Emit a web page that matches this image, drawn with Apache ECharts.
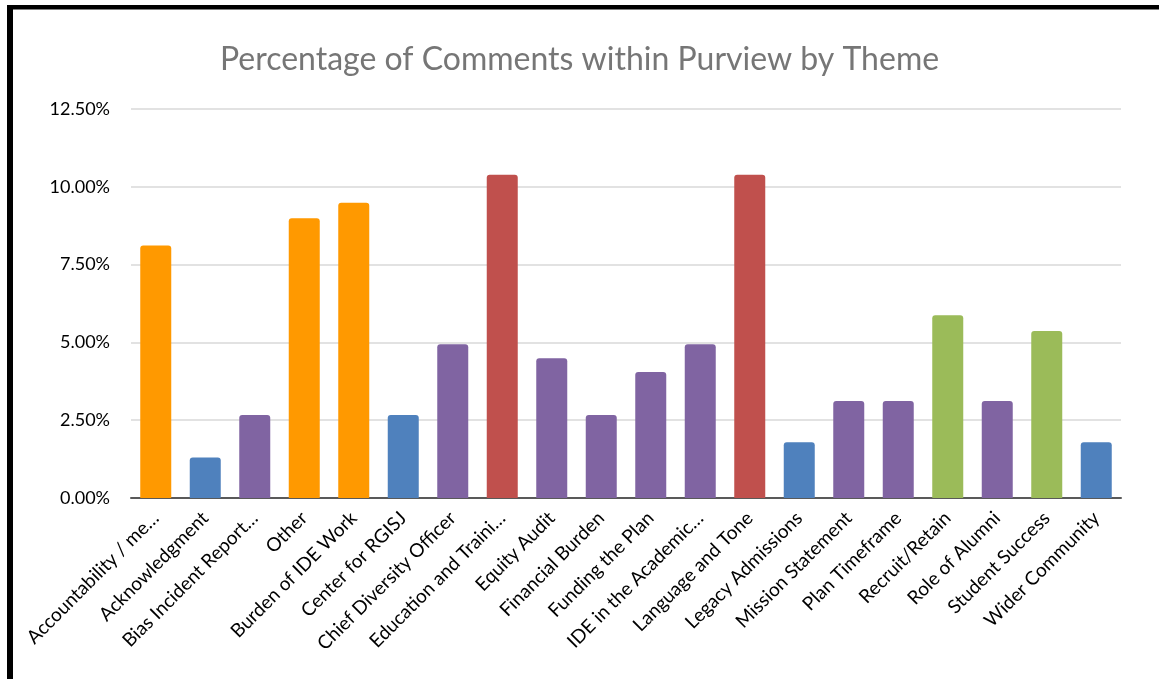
<!DOCTYPE html>
<html>
<head>
<meta charset="utf-8">
<title>Percentage of Comments within Purview by Theme</title>
<script type="text/javascript" src="https://cdn.jsdelivr.net/npm/echarts@6/dist/echarts.min.js"></script>
<style>
  html, body { margin: 0; padding: 0; background: #fff; }
  #chart { width: 1159px; height: 679px; }
</style>
</head>
<body>
<div id="chart"></div>
<script type="text/javascript">
// themes (labels truncated as in the original)
var themes = [
  'Accountability / me…', 'Acknowledgment', 'Bias Incident Report…', 'Other',
  'Burden of IDE Work', 'Center for RGISJ', 'Chief Diversity Officer',
  'Education and Traini…', 'Equity Audit', 'Financial Burden', 'Funding the Plan',
  'IDE in the Academic…', 'Language and Tone', 'Legacy Admissions',
  'Mission Statement', 'Plan Timeframe', 'Recruit/Retain', 'Role of Alumni',
  'Student Success', 'Wider Community'
];
// percentage of comments
var percents = [
  8.11, 1.30, 2.67, 8.99, 9.49, 2.67, 4.94, 10.39, 4.49, 2.67,
  4.05, 4.94, 10.39, 1.79, 3.12, 3.12, 5.87, 3.12, 5.37, 1.79
];
// y axis ticks
var yTicks = [0, 2.5, 5, 7.5, 10, 12.5];

// colour of each bar
var barColors = [
  '#ff9900', '#4f81bd', '#8064a2', '#ff9900', '#ff9900', '#4f81bd', '#8064a2',
  '#c0504d', '#8064a2', '#8064a2', '#8064a2', '#8064a2', '#c0504d', '#4f81bd',
  '#8064a2', '#8064a2', '#9bbb59', '#8064a2', '#9bbb59', '#4f81bd'
];

var font = 'Lato, "Open Sans", sans-serif';
var myChart = echarts.init(document.getElementById('chart'));

myChart.setOption({
  animation: false,
  title: {
    text: 'Percentage of Comments within Purview by Theme',
    left: 'center',
    top: 39,
    textStyle: { color: '#767676', fontSize: 32, fontWeight: 'normal', fontFamily: font }
  },
  grid: { left: 131, right: 38, top: 109, bottom: 181 },
  xAxis: {
    type: 'category',
    data: themes,
    axisTick: { show: false },
    axisLine: { lineStyle: { color: '#595959', width: 2 } },
    axisLabel: {
      interval: 0,
      rotate: 45,
      margin: 17,
      color: '#000',
      fontSize: 19,
      fontFamily: font
    }
  },
  yAxis: {
    type: 'value',
    min: yTicks[0],
    max: yTicks[yTicks.length - 1],
    interval: yTicks[1] - yTicks[0],
    axisLine: { show: false },
    axisTick: { show: false },
    splitLine: { lineStyle: { color: '#d9d9d9', width: 1.5 } },
    axisLabel: {
      margin: 21,
      color: '#000',
      fontSize: 18,
      fontFamily: font,
      formatter: function (v) { return v.toFixed(2) + '%'; }
    }
  },
  series: [{
    type: 'bar',
    barWidth: 31,
    data: percents.map(function (v, i) {
      return { value: v, itemStyle: { color: barColors[i], borderRadius: [3, 3, 0, 0] } };
    })
  }],
  graphic: [
    { type: 'rect', shape: { x: 7, y: 5, width: 6, height: 674 }, style: { fill: '#000' }, z: 100 },
    { type: 'rect', shape: { x: 7, y: 5, width: 1152, height: 4.5 }, style: { fill: '#000' }, z: 100 }
  ]
});
</script>
</body>
</html>
